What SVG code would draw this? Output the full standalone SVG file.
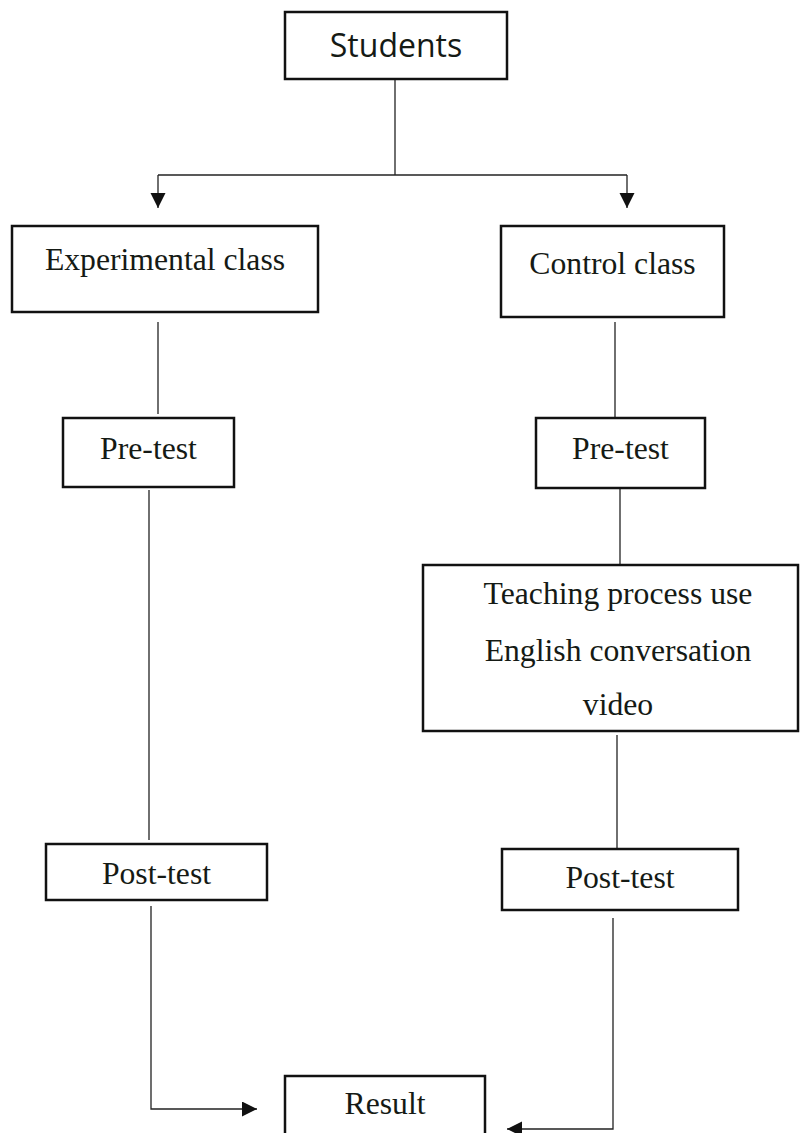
<svg xmlns="http://www.w3.org/2000/svg" width="800" height="1133" viewBox="0 0 800 1133">
<style>
.box{fill:#fff;stroke:#111;stroke-width:2.5}
.t{font-family:"Liberation Serif","Times New Roman",serif;font-size:31.7px;fill:#151a15;text-anchor:middle}
.s{font-family:"Open Sans","Liberation Sans",sans-serif;font-size:32px;fill:#151a15;text-anchor:middle}
.c{fill:none;stroke:#222;stroke-width:1.3}
</style>
<defs>
<marker id="ah" markerUnits="userSpaceOnUse" markerWidth="16" markerHeight="16" refX="15" refY="7.5" orient="auto">
<path d="M0,0 L15,7.5 L0,15 z" fill="#111"/>
</marker>
</defs>
<rect width="800" height="1133" fill="#fff"/>
<g id="connectors">
<path class="c" d="M395,79 V175"/>
<path class="c" d="M158,175 H627"/>
<path class="c" d="M158,175 V208" marker-end="url(#ah)"/>
<path class="c" d="M627,175 V208" marker-end="url(#ah)"/>
<path class="c" d="M158,322 V414"/>
<path class="c" d="M615,322 V418"/>
<path class="c" d="M149,490 V840"/>
<path class="c" d="M620,488 V565"/>
<path class="c" d="M617,735 V849"/>
<path class="c" d="M151,906 V1109 H257" marker-end="url(#ah)"/>
<path class="c" d="M613,918 V1129 H507" marker-end="url(#ah)"/>
</g>
<g id="students">
<rect class="box" x="285" y="12" width="222" height="67"/>
<text class="s" x="396" y="57">Students</text>
</g>
<g id="experimental">
<rect class="box" x="12" y="226" width="306" height="86"/>
<text class="t" x="165" y="270">Experimental class</text>
</g>
<g id="control">
<rect class="box" x="501" y="226" width="223" height="91"/>
<text class="t" x="612.5" y="274">Control class</text>
</g>
<g id="pretest-exp">
<rect class="box" x="63" y="418" width="171" height="69"/>
<text class="t" x="148.5" y="459">Pre-test</text>
</g>
<g id="pretest-ctrl">
<rect class="box" x="536" y="418" width="169" height="70"/>
<text class="t" x="620.5" y="459">Pre-test</text>
</g>
<g id="teaching">
<rect class="box" x="423" y="565" width="375" height="166"/>
<text class="t" x="618" y="604">Teaching process use</text>
<text class="t" x="618" y="661">English conversation</text>
<text class="t" x="618" y="715">video</text>
</g>
<g id="posttest-exp">
<rect class="box" x="46" y="844" width="221" height="56"/>
<text class="t" x="156.5" y="884">Post-test</text>
</g>
<g id="posttest-ctrl">
<rect class="box" x="502" y="849" width="236" height="61"/>
<text class="t" x="620" y="888">Post-test</text>
</g>
<g id="result">
<rect class="box" x="285" y="1076" width="200" height="70"/>
<text class="t" x="385" y="1114">Result</text>
</g>
</svg>
